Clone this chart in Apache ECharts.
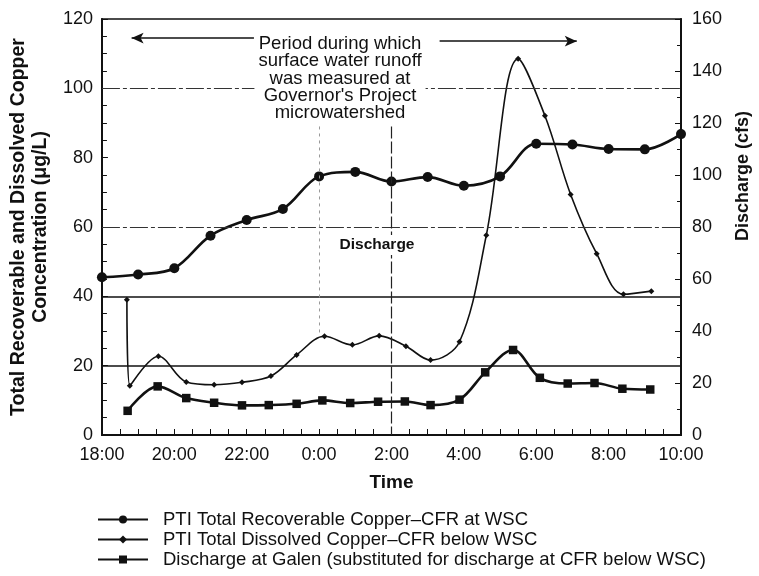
<!DOCTYPE html>
<html>
<head>
<meta charset="utf-8">
<script src="https://cdn.jsdelivr.net/npm/echarts@6/dist/echarts.min.js"></script>
<style>
html,body{margin:0;padding:0;background:#fff;}
#chart{width:759px;height:576px;}
</style>
</head>
<body>
<div id="chart"></div>
<script>
// Hours elapsed since 18:00
const recoverableTimes = [0, 1, 2, 3, 4, 5, 6, 7, 8, 9, 10, 11, 12, 13, 14, 15, 16];
const recoverableCopper = [45.5, 46.3, 48.1, 57.5, 62.0, 65.2, 74.6, 75.9, 73.1, 74.4, 71.9, 74.6, 84.0, 83.8, 82.5, 82.4, 86.8];

const dissolvedTimes = [0.69, 0.77, 1.56, 2.33, 3.10, 3.87, 4.67, 5.38, 6.15, 6.92, 7.66, 8.40, 9.08, 9.88, 10.62, 11.50, 12.24, 12.95, 13.67, 14.41, 15.18];
const dissolvedCopper = [39.0, 14.2, 22.7, 15.3, 14.5, 15.2, 17.0, 23.1, 28.5, 26.0, 28.6, 25.6, 21.6, 26.9, 57.6, 108.5, 92.1, 69.4, 52.3, 40.6, 41.5];

const dischargeTimes = [0.71, 1.54, 2.33, 3.10, 3.87, 4.61, 5.38, 6.09, 6.86, 7.63, 8.37, 9.08, 9.88, 10.59, 11.36, 12.10, 12.87, 13.61, 14.38, 15.15];
const dischargeCfs = [9.3, 18.7, 14.2, 12.4, 11.4, 11.5, 12.0, 13.3, 12.3, 12.8, 12.9, 11.5, 13.6, 24.1, 32.7, 22.0, 19.8, 20.0, 17.8, 17.5];

const seriesNames = [
  'PTI Total Recoverable Copper\u2013CFR at WSC',
  'PTI Total Dissolved Copper\u2013CFR below WSC',
  'Discharge at Galen (substituted for discharge at CFR below WSC)'
];
const startHour = 18;
const dashedRefLevels = [100, 60];
const solidRefLevels = [40, 20];
const periodStart = 0.82, periodEnd = 13.12;

const FONT = 'Liberation Sans, Arial, Helvetica, sans-serif';
const INK = '#111';

const zip = (xs, ys) => xs.map((x, i) => [x, ys[i]]);

const chart = echarts.init(document.getElementById('chart'), null, {renderer: 'canvas'});

const refLines = [];
dashedRefLevels.forEach(v => refLines.push({yAxis: v, lineStyle: {type: [18, 3, 4, 3], color: '#333', width: 1}}));
solidRefLevels.forEach(v => refLines.push({yAxis: v, lineStyle: {type: 'solid', color: INK, width: 1.5}}));
refLines.push([{coord: [6, 89], lineStyle: {type: [3, 4], color: '#999', width: 1}}, {coord: [6, 29]}]);
refLines.push([{coord: [8, 89], lineStyle: {type: [12, 3], color: '#222', width: 1.2}}, {coord: [8, 0]}]);
refLines.push([{coord: [4.2, 114.5], symbol: 'none', lineStyle: {type: 'solid', color: INK, width: 1.5}}, {coord: [periodStart, 114.5], symbol: 'arrow', symbolSize: [8, 12]}]);
refLines.push([{coord: [9.33, 113.6], symbol: 'none', lineStyle: {type: 'solid', color: INK, width: 1.5}}, {coord: [periodEnd, 113.6], symbol: 'arrow', symbolSize: [8, 12]}]);

const option = {
  backgroundColor: '#fff',
  animation: false,
  textStyle: {fontFamily: FONT, color: INK},
  grid: {left: 97, right: 78, top: 19, height: 416, show: true, borderColor: INK, borderWidth: 1.5, backgroundColor: 'transparent'},
  legend: {
    data: seriesNames,
    orient: 'vertical',
    left: 92,
    top: 505,
    itemWidth: 50,
    itemHeight: 10,
    itemGap: 1,
    textStyle: {fontFamily: FONT, fontSize: 18.5, color: INK, lineHeight: 18, padding: [0, 0, 0, 10]}
  },
  xAxis: {
    type: 'value', min: 0, max: 16, interval: 2,
    name: 'Time', nameLocation: 'middle', nameGap: 38,
    nameTextStyle: {fontFamily: FONT, fontWeight: 'bold', fontSize: 19, color: INK},
    axisLine: {show: true, lineStyle: {color: INK, width: 2}},
    axisTick: {show: true, inside: true, length: 6, lineStyle: {color: INK, width: 1}},
    minorTick: {show: true, splitNumber: 4, length: 6, lineStyle: {color: INK, width: 1}},
    axisLabel: {fontFamily: FONT, fontSize: 18, color: INK, margin: 11,
      formatter: v => ((startHour + v) % 24) + ':00'},
    splitLine: {show: false}
  },
  yAxis: [{
    type: 'value', min: 0, max: 120, interval: 20, position: 'left',
    name: 'Total Recoverable and Dissolved Copper\nConcentration (\u03bcg/L)',
    nameLocation: 'middle', nameRotate: 90, nameGap: 44,
    nameTextStyle: {fontFamily: FONT, fontWeight: 'bold', fontSize: 19.5, lineHeight: 22, color: INK},
    axisLine: {show: true, lineStyle: {color: INK, width: 2}},
    axisTick: {show: true, inside: true, length: 6, lineStyle: {color: INK}},
    minorTick: {show: true, splitNumber: 4, length: 5, lineStyle: {color: INK}},
    axisLabel: {fontFamily: FONT, fontSize: 18, color: INK, margin: 9},
    splitLine: {show: false}
  }, {
    type: 'value', min: 0, max: 160, interval: 20, position: 'right',
    axisLine: {show: true, lineStyle: {color: INK, width: 2}},
    axisTick: {show: true, inside: true, length: 6, lineStyle: {color: INK}},
    minorTick: {show: true, splitNumber: 2, length: 4, lineStyle: {color: INK}},
    axisLabel: {fontFamily: FONT, fontSize: 18, color: INK, margin: 11},
    splitLine: {show: false}
  }],
  graphic: [
    {type: 'text', z: 100, x: 340, y: 35,
      style: {text: 'Period during which\nsurface water runoff\nwas measured at\nGovernor\'s Project\nmicrowatershed',
        font: '18.5px ' + FONT, fill: INK, textAlign: 'center', textVerticalAlign: 'top', lineHeight: 17.4,
        backgroundColor: '#fff', padding: [0, 4]}},
    {type: 'text', z: 100, x: 377, y: 245,
      style: {text: 'Discharge', font: 'bold 15.5px ' + FONT, fill: INK, textAlign: 'center', textVerticalAlign: 'middle',
        backgroundColor: '#fff', padding: [2, 3]}},
    {type: 'text', z: 100, x: 743, y: 176, rotation: Math.PI / 2,
      style: {text: 'Discharge (cfs)', font: 'bold 18px ' + FONT, fill: INK, textAlign: 'center', textVerticalAlign: 'middle'}}
  ],
  series: [{
    name: seriesNames[0], type: 'line', yAxisIndex: 0,
    data: zip(recoverableTimes, recoverableCopper),
    smooth: 0.35, symbol: 'circle', symbolSize: 10,
    lineStyle: {color: INK, width: 2.6}, itemStyle: {color: INK},
    markLine: {silent: true, symbol: 'none', label: {show: false}, emphasis: {disabled: true}, data: refLines}
  }, {
    name: seriesNames[1], type: 'line', yAxisIndex: 0,
    data: zip(dissolvedTimes, dissolvedCopper),
    smooth: 0.35, symbol: 'diamond', symbolSize: 6,
    lineStyle: {color: INK, width: 1.6}, itemStyle: {color: INK}
  }, {
    name: seriesNames[2], type: 'line', yAxisIndex: 1,
    data: zip(dischargeTimes, dischargeCfs),
    smooth: 0.35, symbol: 'rect', symbolSize: 8.5,
    lineStyle: {color: INK, width: 2.6}, itemStyle: {color: INK}
  }]
};
chart.setOption(option);
</script>
</body>
</html>
